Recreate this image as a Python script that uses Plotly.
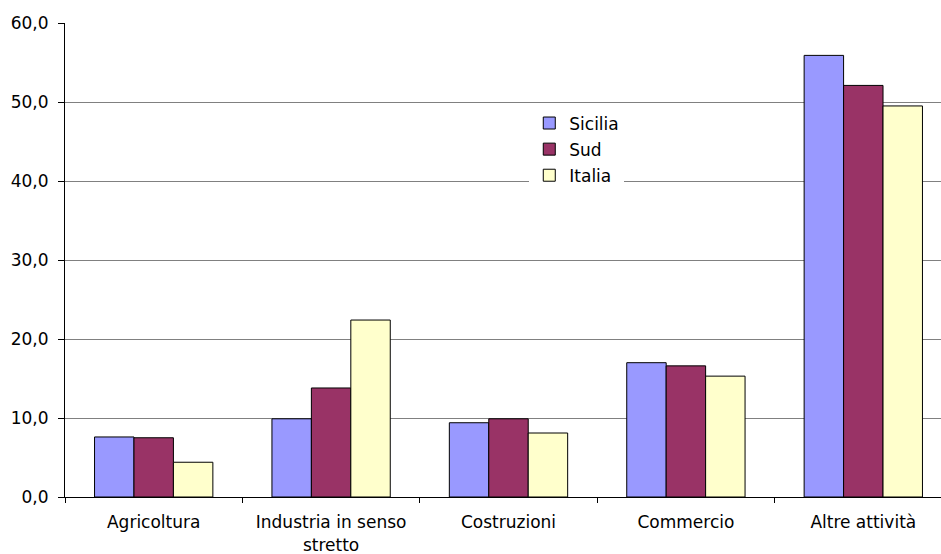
import plotly.graph_objects as go

categories = ["Agricoltura", "Industria in senso<br>stretto", "Costruzioni", "Commercio", "Altre attività"]
sicilia = [7.6, 9.9, 9.4, 17.0, 55.9]
sud = [7.5, 13.8, 9.9, 16.6, 52.1]
italia = [4.4, 22.4, 8.1, 15.3, 49.5]
series_names = ["Sicilia", "Sud", "Italia"]
colors = ["#9999FF", "#993366", "#FFFFCC"]
ytick_vals = [0, 10, 20, 30, 40, 50, 60]

fig = go.Figure()
for name, vals, col in zip(series_names, [sicilia, sud, italia], colors):
    fig.add_trace(go.Bar(
        name=name, x=categories, y=vals, legendgroup=name,
        marker=dict(color=col, line=dict(color="#000000", width=1)),
    ))

fig.update_layout(
    width=941, height=554,
    margin=dict(l=65, r=0, t=23, b=57),
    paper_bgcolor="white", plot_bgcolor="white",
    barmode="group", bargap=0.333, bargroupgap=0,
    separators=",.",
    font=dict(family="DejaVu Sans, Liberation Sans, sans-serif", size=17, color="#000000"),
    legend=dict(
        x=0.53, y=0.826, xanchor="left", yanchor="top",
        bgcolor="white", borderwidth=0,
        traceorder="grouped", tracegroupgap=1,
        font=dict(size=17),
    ),
    showlegend=True,
)
fig.update_xaxes(
    range=[-0.5, 4.438], automargin=False,
    showline=True, linecolor="#000000", linewidth=1,
    ticks="outside", tickson="boundaries", ticklen=5, tickcolor="#000000",
    showgrid=False, ticklabelstandoff=10,
)
fig.update_yaxes(
    range=[0, 60], tickvals=ytick_vals, tickformat=".1f", automargin=False,
    showline=True, linecolor="#000000", linewidth=1,
    ticks="outside", ticklen=6, tickcolor="#000000",
    showgrid=True, gridcolor="#808080", gridwidth=1,
    zeroline=False, ticklabelstandoff=6,
)
fig.write_html("out.html", config={"displayModeBar": False},
               post_script="document.body.style.margin='0px';")
